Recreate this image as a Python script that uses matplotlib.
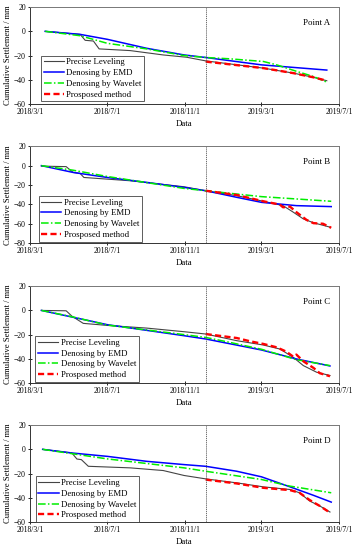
import numpy as np
import matplotlib
matplotlib.use('Agg')
import matplotlib.pyplot as plt

# Day offsets are counted from 2018-03-01
START = np.datetime64('2018-03-01')
SPLIT_DAY = 277

points = ['Point A', 'Point B', 'Point C', 'Point D']
y_limits = [(-60, 20), (-80, 20), (-60, 20), (-60, 20)]

# --- Point A ---
a_lev_d = [24, 79, 87, 100, 109, 158, 210, 247, 277, 368, 415, 447, 468]
a_lev_v = [0, -2.5, -7.4, -8, -14.5, -15.9, -19.5, -21.4, -24.4, -30.4, -34.5, -38, -40.8]
a_emd_d = [24, 79, 122, 184, 243, 277, 365, 468]
a_emd_v = [0, -2.5, -6.6, -14, -19.5, -21.6, -27.7, -32]
a_wav_d = [24, 79, 122, 184, 243, 277, 315, 368, 389, 420, 447, 468]
a_wav_v = [0, -3.6, -9.9, -14.5, -20, -21.6, -22.7, -24.9, -27.7, -33, -37.3, -42]
a_pro_d = [277, 368, 415, 447, 468]
a_pro_v = [-25, -30.4, -34.5, -38, -40.8]

# --- Point B ---
b_lev_d = [18, 57, 68, 79, 85, 158, 243, 277, 326, 368, 399, 415, 431, 447, 473]
b_lev_v = [-0.5, -1, -7, -8, -12.2, -15.6, -21.8, -25.9, -31, -36.8, -41.3, -48, -55, -59, -63.5]
b_emd_d = [18, 68, 122, 184, 243, 277, 326, 365, 420, 475]
b_emd_v = [0, -7, -12.2, -17.3, -22.5, -25.9, -32.7, -37.9, -41.3, -42.3]
b_wav_d = [18, 68, 122, 243, 277, 365, 475]
b_wav_v = [0, -4.7, -11.2, -23.5, -25.9, -32, -36.8]
b_pro_d = [277, 326, 368, 394, 399, 410, 420, 436, 447, 462, 475]
b_pro_v = [-25.9, -30.3, -36.8, -40.2, -43, -42.3, -48, -56, -59.4, -60, -64.2]

# --- Point C ---
c_lev_d = [18, 57, 66, 84, 122, 184, 243, 277, 326, 368, 394, 415, 431, 452, 473]
c_lev_v = [0, -0.3, -4.7, -10.7, -12.4, -14.6, -17.6, -19.5, -25, -28.6, -31.9, -38.7, -45.6, -51.1, -53.8]
c_emd_d = [18, 122, 243, 277, 365, 420, 473]
c_emd_v = [0, -11.8, -20.9, -23.6, -32.7, -40.1, -45.9]
c_wav_d = [18, 66, 122, 243, 277, 315, 365, 420, 473]
c_wav_v = [0, -5.2, -12.1, -20, -22.3, -26.4, -32.1, -40.7, -45.6]
c_pro_d = [277, 326, 347, 368, 389, 404, 415, 420, 431, 447, 457, 473]
c_pro_v = [-19.5, -22.8, -25.5, -27.7, -30.5, -34, -38.2, -36.5, -42, -47.5, -51.9, -54.4]

# --- Point D ---
d_lev_d = [20, 66, 74, 81, 92, 158, 210, 243, 277, 326, 368, 410, 425, 441, 457, 473]
d_lev_v = [0, -3, -8, -8.5, -14, -15.3, -17.5, -21.6, -24.4, -27.7, -31, -33.2, -35.9, -42.7, -46.8, -51.8]
d_emd_d = [20, 66, 122, 184, 243, 277, 326, 365, 410, 447, 475]
d_emd_v = [0, -3, -5.8, -9.9, -12.6, -14, -18.1, -22.7, -31, -38, -43.6]
d_wav_d = [20, 122, 243, 277, 365, 410, 475]
d_wav_v = [0, -7.9, -15.3, -18.1, -24.9, -30.4, -35.9]
d_pro_d = [277, 326, 368, 410, 425, 441, 457, 473]
d_pro_v = [-25, -28.2, -31.8, -33.7, -35.9, -41.9, -46.8, -52.3]

panels = [
    (a_lev_d, a_lev_v, a_emd_d, a_emd_v, a_wav_d, a_wav_v, a_pro_d, a_pro_v),
    (b_lev_d, b_lev_v, b_emd_d, b_emd_v, b_wav_d, b_wav_v, b_pro_d, b_pro_v),
    (c_lev_d, c_lev_v, c_emd_d, c_emd_v, c_wav_d, c_wav_v, c_pro_d, c_pro_v),
    (d_lev_d, d_lev_v, d_emd_d, d_emd_v, d_wav_d, d_wav_v, d_pro_d, d_pro_v),
]

tick_days = [0, 122, 245, 365, 487]
tick_labels = ['2018/3/1', '2018/7/1', '2018/11/1', '2019/3/1', '2019/7/1']


def to_dates(days):
    return START + np.array(days, dtype='timedelta64[D]')


plt.rcParams['font.family'] = ['Liberation Serif', 'DejaVu Serif']

fig = plt.figure(figsize=(3.55, 5.5), dpi=100)
bottoms = [0.811, 0.558, 0.3036, 0.051]
legend_anchor = [(0.036, 0.027), (0.028, 0.016), (0.017, 0.013), (0.019, 0.0)]

for i, data in enumerate(panels):
    lev_d, lev_v, emd_d, emd_v, wav_d, wav_v, pro_d, pro_v = data
    ax = fig.add_axes([0.0845, bottoms[i], 0.870, 0.176])
    ax.plot(to_dates(lev_d), lev_v, color='#444444', lw=0.8, label='Precise Leveling')
    ax.plot(to_dates(emd_d), emd_v, color='#0000ff', lw=1.1, label='Denosing by EMD')
    ax.plot(to_dates(wav_d), wav_v, color='#00ee00', lw=1.1, ls=(0, (5, 1.5, 1, 1.5)),
            label='Denosing by Wavelet')
    ax.plot(to_dates(pro_d), pro_v, color='#ff0000', lw=1.7, ls=(0, (2.6, 1.4)),
            label='Prosposed method')
    ax.axvline(to_dates([SPLIT_DAY])[0], color='#555555', lw=0.6, ls=(0, (1.5, 1)))

    ax.set_xlim(to_dates([0])[0], to_dates([487])[0])
    ax.set_ylim(*y_limits[i])
    ax.set_yticks(np.arange(y_limits[i][0], y_limits[i][1] + 1, 20))
    ax.set_xticks(to_dates(tick_days))
    ax.set_xticklabels(tick_labels)
    ax.tick_params(direction='inout', length=3, width=0.6, labelsize=5.5, pad=1.5)
    for s in ax.spines.values():
        s.set_linewidth(0.7)
        s.set_color('#333333')
    ax.spines['top'].set_color('#777777')
    ax.spines['right'].set_color('#777777')

    ax.set_xlabel('Data', fontsize=6.4, labelpad=3)
    ax.set_ylabel('Cumulative Settlement / mm', fontsize=6.2, labelpad=1.5)
    ax.text(0.972, 0.84, points[i], transform=ax.transAxes, ha='right', va='center', fontsize=6.4)

    leg = ax.legend(loc='lower left', bbox_to_anchor=legend_anchor[i], fontsize=6.3,
                    frameon=True, fancybox=False, borderpad=0.3, labelspacing=0.3,
                    handlelength=2.3, handletextpad=0.3, borderaxespad=0)
    leg.get_frame().set_edgecolor('#333333')
    leg.get_frame().set_linewidth(0.7)

fig.savefig('out.png', dpi=100)
